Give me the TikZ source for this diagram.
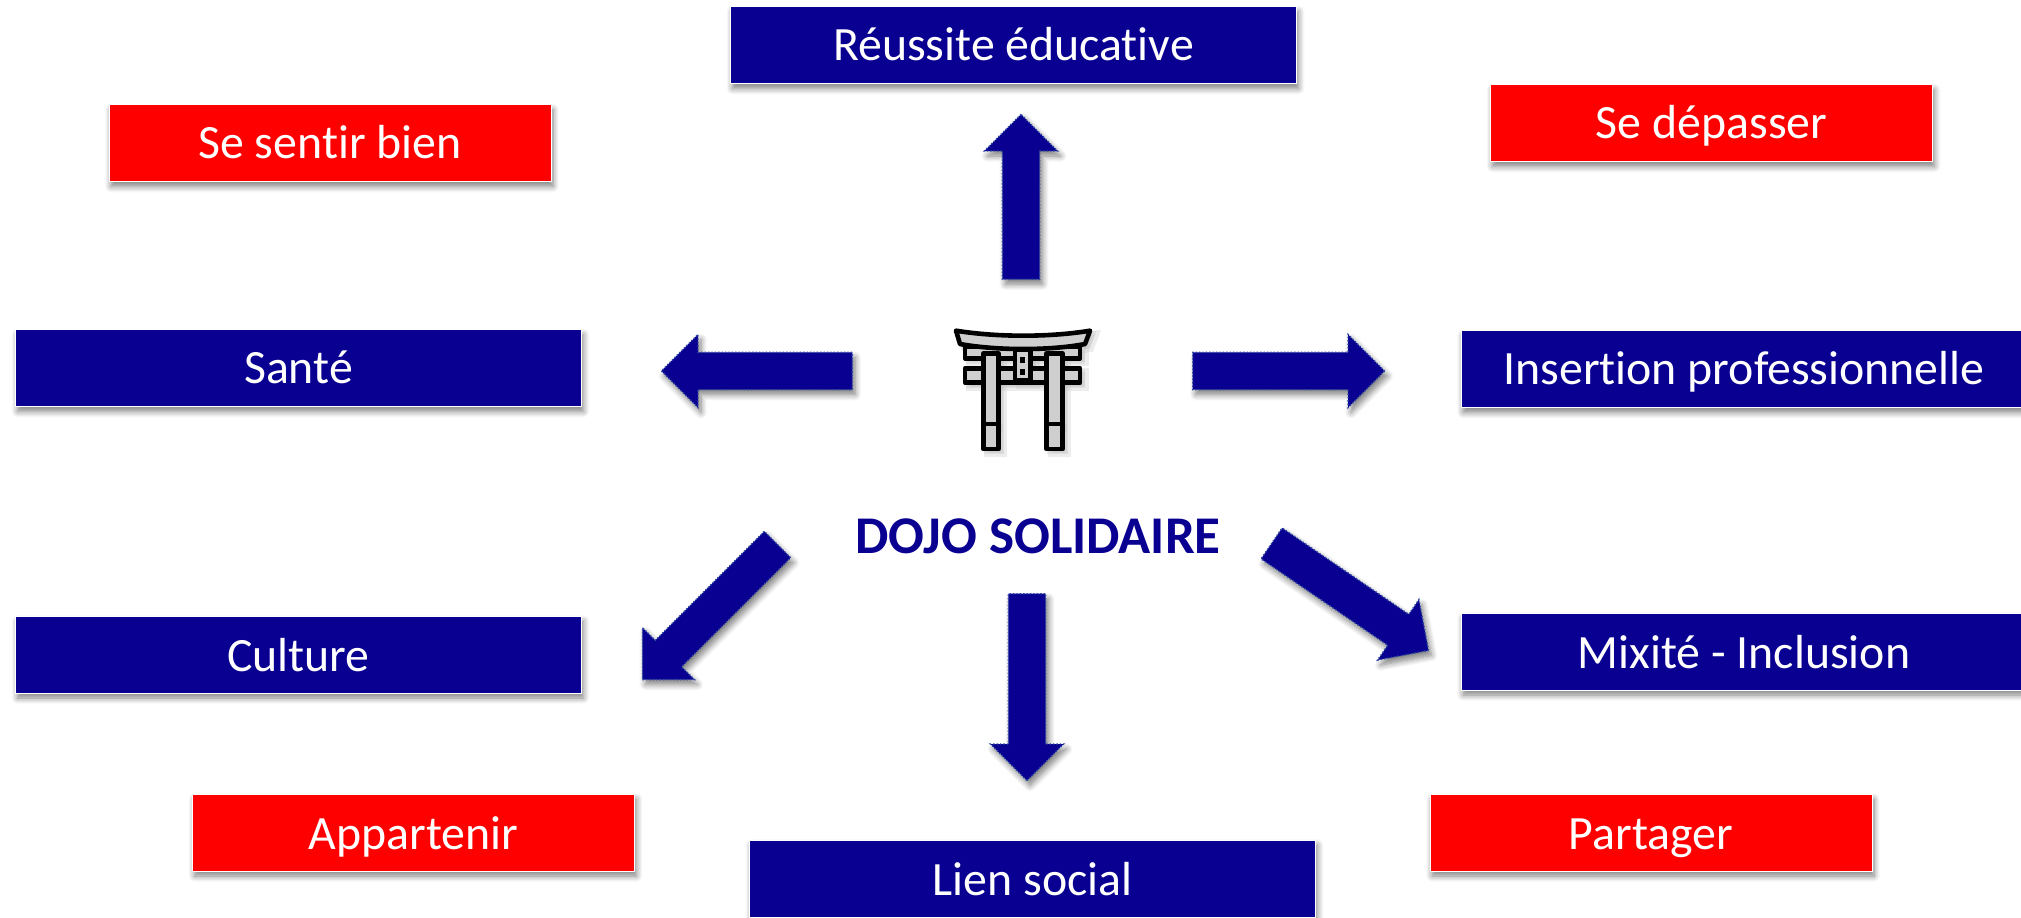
\documentclass[tikz,border=0pt]{standalone}
\usepackage{fontspec}
\setmainfont{Carlito}[Ligatures=NoCommon]
\usetikzlibrary{shapes.arrows,shadows.blur}
\definecolor{colornavy}{RGB}{9,0,146}
\definecolor{colorred}{RGB}{255,0,0}
\definecolor{colordots}{RGB}{45,75,160}

% the gate, in units of a third of a pixel
\newcommand{\gateshape}{
    \draw[gateline] (195,205) rectangle (540,248);
    \draw[gateline] (195,140) rectangle (540,175);
    \draw[gateline] (250,160) rectangle (295,447);
    \draw[gateline] (440,160) rectangle (487,447);
    \draw[gateline] (250,372) -- (295,372);
    \draw[gateline] (440,372) -- (487,372);
    \draw[gateline] (345,150) rectangle (392,242);
    \draw[gateline] (168,92) .. controls (290,112) and (450,112) .. (570,92)
        -- (555,132) .. controls (450,152) and (290,152) .. (180,132) -- cycle;
}

\begin{document}
\begin{tikzpicture}[
    x=.5pt, y=-.5pt,
    font={\fontsize{23.9}{28}\selectfont},
    concept/.style={text=white,rectangle,draw=white,line width=.5pt,inner sep=0pt,minimum width=283pt,minimum height=38.5pt,
        text height=17pt,text depth=2pt,
        blur shadow={shadow xshift=1pt,shadow yshift=-2.5pt,shadow blur steps=8,shadow blur radius=3pt,shadow opacity=50}},
    goal/.style={concept,fill=colornavy},
    feeling/.style={concept,fill=colorred,minimum width=221pt},
    lowtext/.style={text depth=0pt},
    blockarrow/.style={single arrow,anchor=tail,fill=colornavy,draw=colordots,densely dotted,line width=.7pt,inner xsep=0pt,inner ysep=9pt,
        minimum width=36pt,single arrow head extend=9pt,single arrow tip angle=90,
        blur shadow={shadow xshift=1.5pt,shadow yshift=-2.5pt,shadow blur steps=8,shadow blur radius=3pt,shadow opacity=50}},
    gateline/.style={fill=gray!38,draw=black,line width=2.3pt,line join=round,line cap=round},
]
    \useasboundingbox (0,0) rectangle (2021,917);

    % Goals
    \node[goal] (reussite) at (1013.5,45)  {Réussite éducative};
    \node[goal] (sante)    at (298.5,368)  {Santé};
    \node[goal] (insertion) at (1744,369)  {Insertion professionnelle};
    \node[goal,lowtext] (culture)  at (298.5,654.5) {Culture};
    \node[goal,lowtext] (mixite)   at (1744,651.5) {Mixité - Inclusion};
    \node[goal,lowtext] (lien)     at (1032.5,878.5) {Lien social};

    % Feelings
    \node[feeling] (sentir)    at (330,143)   {Se sentir bien};
    \node[feeling] (depasser)  at (1711.5,123) {Se dépasser};
    \node[feeling,lowtext] (appartenir) at (413.5,832.5) {Appartenir};
    \node[feeling,lowtext] (partager)  at (1651,832.5) {Partager};

    % Centre
    \node[text=colornavy,font={\fontsize{26.5}{30}\selectfont\bfseries}] (dojo) at (1038,536) {DOJO SOLIDAIRE};
    \begin{scope}[shift={(905,304)},x=.1667pt,y=-.1667pt,gateline/.style={fill=black!25,draw=black!25,line width=4pt,opacity=.3}]
        \gateshape
    \end{scope}
    \begin{scope}[shift={(903,303)},x=.1667pt,y=-.1667pt,gateline/.style={fill=black!25,draw=black!25,line width=2.3pt,opacity=.3}]
        \gateshape
    \end{scope}
    \begin{scope}[shift={(900,300)},x=.1667pt,y=-.1667pt]
        \gateshape
        \fill (360,172) rectangle (376,188);
        \fill (360,208) rectangle (376,224);
    \end{scope}

    % Arrows
    \node[blockarrow,minimum height=82.5pt,rotate=90]  (toreussite) at (1021,280) {};
    \node[blockarrow,minimum height=95.5pt,rotate=180] (tosante)    at (853,371) {};
    \node[blockarrow,minimum height=96pt]              (toinsertion) at (1192,371) {};
    \node[blockarrow,minimum height=93.5pt,rotate=-90] (tolien)     at (1027,593) {};
    \node[blockarrow,minimum height=95.5pt,rotate=225] (toculture)  at (778,544) {};
    \node[blockarrow,minimum height=95pt,rotate=-34.3] (tomixite)   at (1271,543) {};
\end{tikzpicture}
\end{document}
